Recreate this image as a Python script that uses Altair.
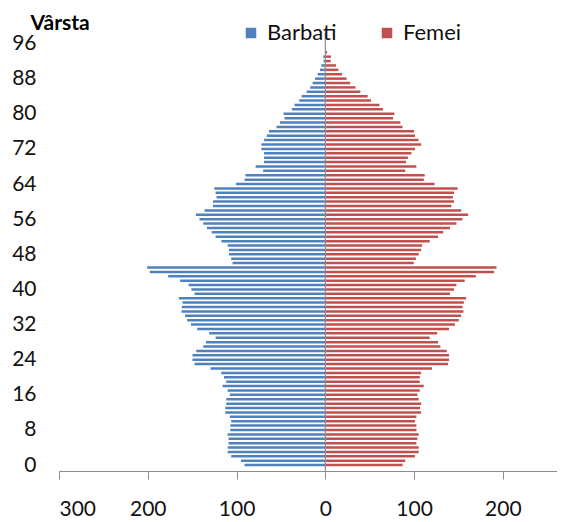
import altair as alt
import pandas as pd

ages = list(range(0, 101))

# Population (thousands) by age
barbati = [91, 95, 106, 110, 110, 109, 109, 110, 107, 107,
           106, 107.5, 112.7, 112.7, 111.6, 111.6, 107.5, 110, 115.7, 111.6,
           114.2, 117.2, 129.3, 147.3, 149.6, 149.6, 145.4, 137.5, 134.5, 123.6,
           130.8, 144.3, 151.4, 155.6, 158, 162, 161.6, 160.8, 165, 147.3,
           151, 154, 163.5, 177, 197.7, 200.7, 104.5, 106, 108.6, 108.6,
           110, 117, 123.6, 128, 133.4, 137.5, 141.7, 145.8, 136, 126.6,
           126.6, 122.5, 123.6, 125, 100.7, 91, 90, 70, 78.5, 69,
           69, 69, 72, 72, 69, 66, 63.5, 55, 51, 45.8,
           47, 37.6, 34.6, 29.3, 26.7, 21, 17, 14.3, 11.6, 8.6,
           6, 4.5, 2, 2.3, 0, 0, 0, 0, 0, 0, 0]

femei = [87, 90, 101, 105.2, 105.2, 102.6, 103.7, 105.2, 102.6, 102.6,
         101, 102.6, 107.9, 106.7, 107.9, 105.2, 103.7, 106.4, 110.9, 106.4,
         106.4, 107.9, 120.3, 138.3, 139.4, 139.4, 136.8, 129.6, 127, 117.6,
         126, 139.4, 146, 150.3, 153, 155.6, 154.5, 156, 158.6, 140.5,
         145, 147.7, 157, 169.5, 190, 192.8, 99.6, 102, 105.2, 107.9,
         109, 117.6, 127, 132.7, 140.5, 147.7, 154.5, 161, 153, 142,
         145, 143.6, 145, 149, 123, 111, 112, 90, 102.6, 91,
         93, 97, 101, 108, 105, 101, 100, 87, 84.6, 76.3,
         77.8, 65, 61, 51.5, 47.7, 39.5, 34, 28, 24, 18.8,
         14.7, 12, 6, 6.4, 2, 0, 0, 0, 0, 0, 0]

sexe = ["Barbati", "Femei"]
culori = ["#4F81BD", "#C0504D"]
x_ticks = [-300, -200, -100, 0, 100, 200]
y_ticks = [0, 8, 16, 24, 32, 40, 48, 56, 64, 72, 80, 88, 96]

rows = []
for a, m, f in zip(ages, barbati, femei):
    rows.append({"varsta": a, "sex": "Barbati", "val": -m})
    rows.append({"varsta": a, "sex": "Femei", "val": f})
df = pd.DataFrame(rows)

FONT = "Lato"

bars = alt.Chart(df).mark_bar(size=2.5).encode(
    x=alt.X("val:Q",
            scale=alt.Scale(domain=[-300, 261], nice=False, zero=False),
            axis=alt.Axis(values=x_ticks, labelExpr="abs(datum.value)", title=None,
                          grid=False, tickSize=8, tickColor="#8c8c8c",
                          domainColor="#8c8c8c", labelPadding=19,
                          labelFontSize=21, labelColor="#111111", labelFont=FONT)),
    x2=alt.datum(0),
    y=alt.Y("varsta:Q",
            scale=alt.Scale(domain=[-0.2, 99.3], nice=False, zero=False),
            axis=alt.Axis(values=y_ticks, title="Vârsta", titleAngle=0,
                          titleAlign="left", titleBaseline="middle",
                          titleX=-29, titleY=-1, titleFont=FONT,
                          titleFontSize=21, titleFontWeight="bold", titleColor="#000000",
                          labelFontSize=21, labelFont=FONT, labelColor="#111111",
                          labelPadding=23, ticks=False, domain=False, grid=False)),
    color=alt.Color("sex:N",
                    scale=alt.Scale(domain=sexe, range=culori),
                    legend=alt.Legend(title=None, orient="none", legendX=181, legendY=-2,
                                      direction="horizontal", symbolType="square",
                                      symbolSize=110, symbolStrokeWidth=0,
                                      labelFontSize=22, labelFont=FONT,
                                      labelColor="#111111", columnPadding=39,
                                      labelOffset=5, padding=0)),
)

center = alt.Chart(pd.DataFrame({"x": [0]})).mark_rule(color="#8c8c8c", strokeWidth=1.2).encode(
    x="x:Q",
    y=alt.value(9),
    y2=alt.value(447),
)

chart = alt.layer(bars, center).properties(
    width=498,
    height=447,
    padding={"left": 51, "top": 16, "right": 0, "bottom": 50},
    autosize=alt.AutoSizeParams(type="none"),
).configure_view(stroke=None)

chart.save("out.html", embed_options={"renderer": "svg", "actions": False})
